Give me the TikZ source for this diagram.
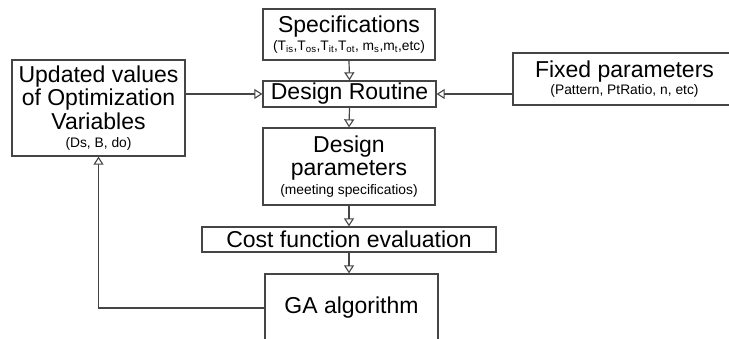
\documentclass[tikz,border=0pt]{standalone}
\usepackage{fontspec}
\setmainfont{Liberation Sans}
\usetikzlibrary{arrows.meta}
\definecolor{linegray}{HTML}{454545}
\tikzset{
  box/.style={draw=linegray, line width=1.3pt, fill=white, inner sep=0pt, align=center, font=\bigtext},
  arr/.style={draw=linegray, line width=1.2pt, -{Triangle[open, length=8pt, width=10pt, line width=1.1pt]}},
  link/.style={draw=linegray, line width=1.2pt}
}
\newcommand{\bigtext}{\fontsize{23}{23.5}\selectfont}
\newcommand{\smalltext}{\fontsize{13.8}{17}\selectfont}
\begin{document}
\begin{tikzpicture}[x=1pt, y=-1pt]
\clip (0,0) rectangle (729,339);
\fill[white] (0,0) rectangle (729,339);

\node[box, minimum width=172pt, minimum height=51pt] (spec) at (349,34.5)
  {Specifications\\[-5pt]{\smalltext (T\textsubscript{is},T\textsubscript{os},T\textsubscript{it},T\textsubscript{ot}, m\textsubscript{s},m\textsubscript{t},etc)}};
\node[box, minimum width=173pt, minimum height=26pt] (routine) at (349.5,94) {Design Routine};
\node[box, minimum width=172pt, minimum height=77pt] (params) at (349,166.5)
  {Design\\parameters\\[-5pt]{\smalltext (meeting specificatios)}};
\node[box, minimum width=294pt, minimum height=25pt] (cost) at (349,239.5) {Cost function evaluation};
\node[box, minimum width=173pt, minimum height=68pt] (ga) at (351.5,308) {GA algorithm};
\node[box, minimum width=173pt, minimum height=96pt] (upd) at (98.5,108)
  {Updated values\\of Optimization\\Variables\\[-5pt]{\smalltext (Ds, B, do)}};
\node[box, minimum width=223pt, minimum height=52pt] (fixed) at (624.5,79)
  {Fixed parameters\\[-6pt]{\smalltext (Pattern, PtRatio, n, etc)}};

\draw[arr] (spec.south) -- (routine.north);
\draw[arr] (routine.south) -- (params.north);
\draw[arr] (params.south) -- (cost.north);
\draw[arr] (cost.south) -- (cost.south |- ga.north);
\draw[arr] (upd.east |- routine.west) -- (routine.west);
\draw[arr] (fixed.west |- routine.east) -- (routine.east);
\draw[arr] (ga.west) -| (upd.south);
\end{tikzpicture}
\end{document}
